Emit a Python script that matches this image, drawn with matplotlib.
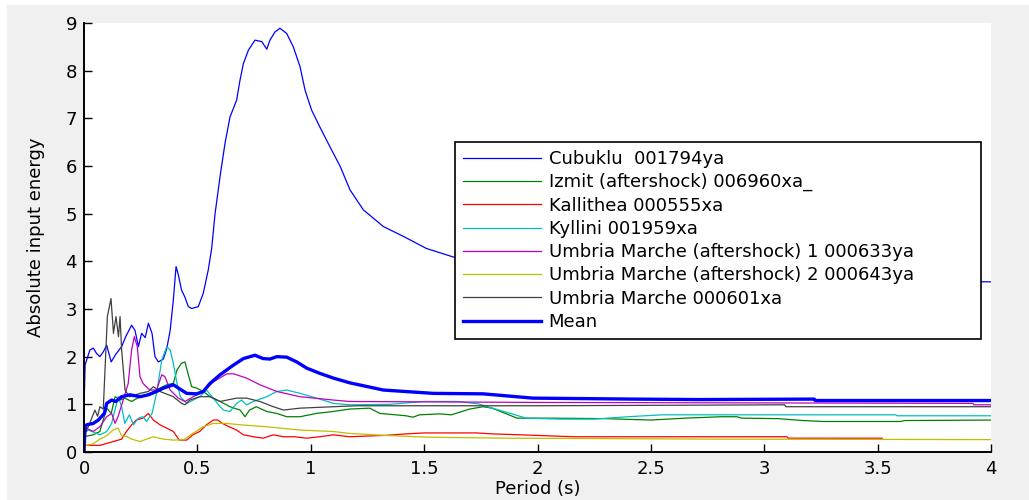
"""Absolute input energy spectra for seven records and their mean."""

import matplotlib.pyplot as plt
from matplotlib.patches import Rectangle

plt.rcParams["font.family"] = ["DejaVu Sans"]

# Series data (period in s, absolute input energy):
CUB_X = [0, 0.005, 0.026, 0.041, 0.055, 0.07, 0.085, 0.1, 0.12, 0.14, 0.166,
         0.184, 0.21, 0.225, 0.24, 0.254, 0.27, 0.284, 0.30, 0.313, 0.328,
         0.35, 0.365, 0.38, 0.394, 0.406, 0.416, 0.43, 0.445, 0.46, 0.475,
         0.504, 0.526, 0.548, 0.563, 0.578, 0.6, 0.622, 0.644, 0.673, 0.688,
         0.703, 0.725, 0.754, 0.784, 0.806, 0.82, 0.842, 0.864, 0.894, 0.923,
         0.953, 0.975, 1.004, 1.04, 1.085, 1.13, 1.173, 1.232, 1.32, 1.41,
         1.51, 1.636, 1.8, 2.0, 2.3, 2.6, 3.0, 3.4, 3.7, 4.0]
CUB_Y = [0.9, 1.83, 2.14, 2.18, 2.07, 2.0, 2.1, 2.24, 1.89, 2.05, 2.21,
         2.42, 2.66, 2.55, 2.21, 2.49, 2.40, 2.70, 2.49, 2.0, 1.89,
         1.95, 2.17, 2.55, 3.19, 3.89, 3.72, 3.40, 3.25, 3.05, 3.01,
         3.05, 3.33, 3.82, 4.27, 5.0, 5.78, 6.48, 7.03, 7.38, 7.80,
         8.15, 8.43, 8.64, 8.61, 8.45, 8.64, 8.81, 8.89, 8.78, 8.50,
         8.08, 7.59, 7.17, 6.82, 6.40, 5.99, 5.50, 5.08, 4.73, 4.52,
         4.27, 4.08, 3.95, 3.85, 3.75, 3.68, 3.63, 3.60, 3.58, 3.57]

GRN_X = [0, 0.01, 0.04, 0.07, 0.1, 0.12, 0.137, 0.16, 0.18, 0.21, 0.247,
         0.29, 0.335, 0.365, 0.394, 0.41, 0.43, 0.445, 0.46, 0.475, 0.497,
         0.526, 0.556, 0.6, 0.644, 0.688, 0.71, 0.73, 0.76, 0.806, 0.85,
         0.894, 0.953, 1.026, 1.1, 1.17, 1.26, 1.305, 1.42, 1.45, 1.48,
         1.57, 1.62, 1.70, 1.76, 1.80, 1.91, 2.06, 2.3, 2.50, 2.65, 2.81,
         2.88, 2.90, 3.06, 3.17, 3.26, 3.6, 3.62, 4.0]
GRN_Y = [0.33, 0.33, 0.36, 0.43, 0.92, 0.81, 1.16, 1.09, 1.13, 1.06, 1.16,
         1.23, 1.34, 1.41, 1.44, 1.72, 1.86, 1.89, 1.62, 1.37, 1.34,
         1.27, 1.16, 1.06, 0.95, 0.88, 0.74, 0.88, 0.95, 0.85, 0.81,
         0.74, 0.74, 0.81, 0.85, 0.90, 0.92, 0.81, 0.76, 0.73, 0.78,
         0.80, 0.78, 0.90, 0.95, 0.92, 0.71, 0.71, 0.70, 0.67, 0.71, 0.74,
         0.74, 0.71, 0.70, 0.66, 0.64, 0.64, 0.66, 0.67]

RED_X = [0, 0.01, 0.07, 0.115, 0.166, 0.184, 0.21, 0.23, 0.26, 0.284, 0.306,
         0.335, 0.365, 0.394, 0.42, 0.453, 0.48, 0.51, 0.54, 0.57, 0.59,
         0.61, 0.64, 0.673, 0.703, 0.747, 0.79, 0.835, 0.88, 0.93, 0.982,
         1.04, 1.1, 1.17, 1.335, 1.42, 1.5, 1.73, 1.8, 1.93, 2.16, 3.1,
         3.105, 3.52]
RED_Y = [0.14, 0.14, 0.14, 0.2, 0.27, 0.41, 0.57, 0.67, 0.71, 0.81, 0.67,
         0.57, 0.50, 0.43, 0.25, 0.25, 0.36, 0.43, 0.57, 0.67, 0.67,
         0.60, 0.53, 0.46, 0.36, 0.32, 0.29, 0.36, 0.32, 0.32, 0.29,
         0.32, 0.36, 0.32, 0.35, 0.38, 0.40, 0.40, 0.38, 0.36, 0.32, 0.32,
         0.29, 0.29]

CYN_X = [0, 0.01, 0.02, 0.07, 0.1, 0.122, 0.151, 0.166, 0.18, 0.2, 0.218,
         0.24, 0.26, 0.276, 0.29, 0.30, 0.32, 0.343, 0.365, 0.38, 0.394,
         0.41, 0.425, 0.453, 0.482, 0.51, 0.54, 0.57, 0.6, 0.615, 0.644,
         0.673, 0.695, 0.717, 0.747, 0.806, 0.85, 0.894, 0.953, 1.026, 1.1,
         1.17, 1.35, 1.50, 1.65, 1.74, 1.8, 1.88, 1.95, 2.1, 2.25, 2.4,
         2.55, 2.7, 3.58, 3.585, 4.0]
CYN_Y = [0.43, 0.43, 0.46, 0.36, 0.43, 0.60, 1.16, 0.95, 0.60, 0.78, 0.57,
         0.71, 0.74, 0.64, 0.74, 0.81, 1.23, 1.93, 2.21, 2.14, 1.86,
         1.44, 1.16, 1.02, 1.09, 1.16, 1.30, 1.13, 0.95, 0.88, 0.85,
         1.02, 1.09, 0.99, 1.06, 1.16, 1.27, 1.30, 1.23, 1.13, 1.02,
         0.99, 1.0, 1.06, 1.06, 1.01, 0.92, 0.81, 0.71, 0.69, 0.69, 0.74,
         0.78, 0.78, 0.78, 0.76, 0.76]

MAG_X = [0, 0.01, 0.041, 0.07, 0.1, 0.122, 0.137, 0.15, 0.173, 0.195, 0.21,
         0.222, 0.235, 0.247, 0.26, 0.29, 0.32, 0.343, 0.357, 0.38, 0.416,
         0.445, 0.482, 0.526, 0.57, 0.63, 0.66, 0.717, 0.776, 0.85, 0.953,
         1.1, 1.17, 2.0, 3.0, 3.92, 3.925, 4.0]
MAG_Y = [0.5, 0.5, 0.43, 0.53, 0.74, 0.81, 0.60, 0.74, 1.09, 1.44, 2.14,
         2.42, 2.21, 1.58, 1.44, 1.30, 1.30, 1.62, 1.58, 1.30, 1.13,
         1.06, 1.16, 1.27, 1.47, 1.64, 1.64, 1.55, 1.41, 1.27, 1.16,
         1.09, 1.06, 1.04, 1.03, 1.02, 0.99, 0.99]

YEL_X = [0, 0.01, 0.04, 0.07, 0.1, 0.13, 0.15, 0.166, 0.19, 0.21, 0.247,
         0.276, 0.306, 0.35, 0.394, 0.44, 0.48, 0.526, 0.57, 0.63, 0.69,
         0.806, 0.953, 1.1, 1.17, 1.32, 1.52, 1.87, 2.8, 4.0]
YEL_Y = [0.14, 0.14, 0.17, 0.27, 0.34, 0.47, 0.50, 0.34, 0.32, 0.27, 0.22,
         0.27, 0.32, 0.27, 0.25, 0.26, 0.39, 0.53, 0.60, 0.60, 0.57,
         0.53, 0.46, 0.43, 0.39, 0.35, 0.31, 0.29, 0.27, 0.26]

GRY_X = [0, 0.01, 0.025, 0.048, 0.06, 0.07, 0.085, 0.103, 0.119, 0.13,
         0.141, 0.152, 0.159, 0.166, 0.181, 0.2, 0.247, 0.284, 0.306, 0.335,
         0.394, 0.43, 0.445, 0.467, 0.51, 0.556, 0.6, 0.673, 0.717, 0.776,
         0.835, 0.88, 0.953, 1.1, 1.2, 2.0, 3.09, 3.095, 4.0]
GRY_Y = [0.44, 0.44, 0.6, 0.88, 0.75, 0.95, 0.9, 2.84, 3.22, 2.49,
         2.84, 2.42, 2.84, 2.14, 1.30, 1.16, 1.23, 1.27, 1.37, 1.27,
         1.16, 1.02, 0.99, 1.09, 1.16, 1.16, 1.06, 1.13, 1.13, 1.06,
         0.95, 0.88, 0.92, 0.95, 0.97, 0.97, 0.99, 0.95, 0.95]

MEAN_X = [0, 0.005, 0.012, 0.041, 0.063, 0.09, 0.1, 0.122, 0.14, 0.166,
          0.203, 0.247, 0.284, 0.32, 0.35, 0.394, 0.43, 0.453, 0.497, 0.526,
          0.556, 0.6, 0.658, 0.703, 0.754, 0.79, 0.82, 0.85, 0.894, 0.938,
          0.982, 1.04, 1.1, 1.173, 1.32, 1.54, 1.76, 1.98, 2.42, 2.71, 3.22,
          3.225, 4.0]
MEAN_Y = [0.0, 0.55, 0.57, 0.60, 0.67, 0.81, 1.02, 1.09, 1.06, 1.16,
          1.20, 1.16, 1.20, 1.27, 1.34, 1.41, 1.30, 1.23, 1.22, 1.27,
          1.44, 1.62, 1.82, 1.96, 2.03, 1.96, 1.95, 2.0, 1.99, 1.89,
          1.76, 1.65, 1.55, 1.45, 1.30, 1.23, 1.22, 1.13, 1.11, 1.10, 1.11,
          1.08, 1.08]

LABELS = [
    "Cubuklu  001794ya",
    "Izmit (aftershock) 006960xa_",
    "Kallithea 000555xa",
    "Kyllini 001959xa",
    "Umbria Marche (aftershock) 1 000633ya",
    "Umbria Marche (aftershock) 2 000643ya",
    "Umbria Marche 000601xa",
    "Mean",
]

# MATLAB default colour order:
COLORS = [(0, 0, 1), (0, 0.5, 0), (1, 0, 0), (0, 0.75, 0.75),
          (0.75, 0, 0.75), (0.75, 0.75, 0), (0.25, 0.25, 0.25)]

# Figure settings:
fig = plt.figure(figsize=(10.29, 5.0), dpi=100, facecolor="white")
fig.patches.append(Rectangle((7 / 1029, 0), 1, 1 - 5 / 500,
                             transform=fig.transFigure, color="#f0f0f0",
                             zorder=-10))
ax = fig.add_axes([84 / 1029, 48 / 500, 907 / 1029, 429 / 500])

series = [(CUB_X, CUB_Y), (GRN_X, GRN_Y), (RED_X, RED_Y), (CYN_X, CYN_Y),
          (MAG_X, MAG_Y), (YEL_X, YEL_Y), (GRY_X, GRY_Y)]
for (xs, ys), color, label in zip(series, COLORS, LABELS):
    ax.plot(xs, ys, color=color, lw=0.9, label=label)
ax.plot(MEAN_X, MEAN_Y, color=(0, 0, 1), lw=2.4, label=LABELS[-1])

# Axes styling:
ax.set_xlim(0, 4)
ax.set_ylim(0, 9)
ax.set_xticks([0, 0.5, 1, 1.5, 2, 2.5, 3, 3.5, 4])
ax.set_xticklabels(["0", "0.5", "1", "1.5", "2", "2.5", "3", "3.5", "4"])
ax.set_yticks(range(10))
ax.spines["top"].set_visible(False)
ax.spines["right"].set_visible(False)
for side in ("left", "bottom"):
    ax.spines[side].set_linewidth(1.4)
ax.tick_params(direction="in", length=5.5, width=1.0, labelsize=13)
ax.tick_params(axis="y", pad=5)
ax.tick_params(axis="x", pad=6)
ax.set_xlabel("Period (s)", fontsize=13, labelpad=1)
ax.set_ylabel("Absolute input energy", fontsize=13, labelpad=15)

# Legend stretched over the same box as the original:
leg = ax.legend(loc="upper left", bbox_to_anchor=(0.409, 0.0, 0.58, 0.7226),
                mode="expand", borderaxespad=0, fontsize=13, fancybox=False,
                framealpha=1, edgecolor="black", labelspacing=0.29,
                handlelength=4.3, handletextpad=0.45, borderpad=0.44)
leg.get_frame().set_linewidth(1.2)

plt.savefig("out.png", dpi=100, facecolor=fig.get_facecolor())
